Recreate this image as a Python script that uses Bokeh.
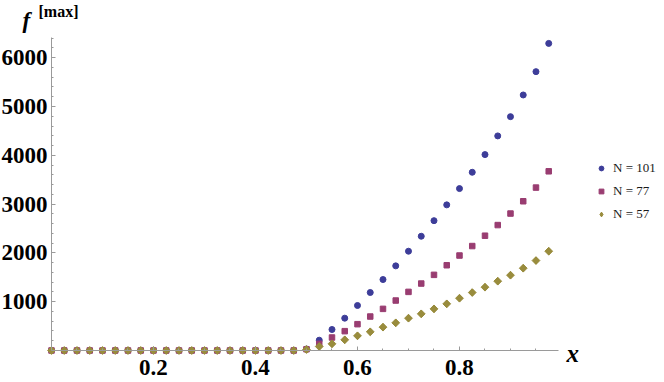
import math
from bokeh.plotting import figure
from bokeh.models import (LinearAxis, FixedTicker, Range1d, Legend, LegendItem,
                          Label, ColumnDataSource)
from bokeh.embed import file_html
from bokeh.resources import INLINE

# ---- data ----
x_vals = [0.0, 0.025, 0.05, 0.075, 0.1, 0.125, 0.15, 0.175, 0.2, 0.225,
          0.25, 0.275, 0.3, 0.325, 0.35, 0.375, 0.4, 0.425, 0.45, 0.475,
          0.5, 0.525, 0.55, 0.575, 0.6, 0.625, 0.65, 0.675, 0.7, 0.725,
          0.75, 0.775, 0.8, 0.825, 0.85, 0.875, 0.9, 0.925, 0.95, 0.975]

n101 = [0, 0, 0, 0, 0, 0, 0, 0, 0, 0, 0, 0, 0, 0, 0, 0, 0, 0, 0, 0,
        30, 211, 430, 662, 922, 1188, 1454, 1734, 2034, 2341,
        2660, 2984, 3318, 3652, 4014, 4397, 4792, 5236, 5714, 6293]
n77 = [0, 0, 0, 0, 0, 0, 0, 0, 0, 0, 0, 0, 0, 0, 0, 0, 0, 0, 0, 0,
       25, 137, 266, 396, 539, 696, 853, 1024, 1201, 1372,
       1550, 1747, 1946, 2140, 2352, 2570, 2806, 3058, 3338, 3672]
n57 = [0, 0, 0, 0, 0, 0, 0, 0, 0, 0, 0, 0, 0, 0, 0, 0, 0, 0, 0, 0,
       20, 82, 137, 219, 301, 383, 478, 567, 662, 751,
       853, 956, 1071, 1188, 1297, 1420, 1543, 1686, 1843, 2034]

series_labels = ["N = 101", "N = 77", "N = 57"]
x_ticks = [0.2, 0.4, 0.6, 0.8]
x_minor = [0.05, 0.1, 0.15, 0.25, 0.3, 0.35, 0.45, 0.5, 0.55, 0.65, 0.7, 0.75, 0.85, 0.9, 0.95]
y_ticks = [1000, 2000, 3000, 4000, 5000, 6000]
y_minor = [200, 400, 600, 800, 1200, 1400, 1600, 1800, 2200, 2400, 2600, 2800,
           3200, 3400, 3600, 3800, 4200, 4400, 4600, 4800, 5200, 5400, 5600, 5800, 6200, 6400]

# ---- styles ----
BLUE = "#3d3d99"
MAGENTA = "#993d71"
OLIVE = "#998c3d"
AXIS_COLOR = "#9a9a9a"
SERIF = "Liberation Serif"

p = figure(width=664, height=382, output_backend="svg", toolbar_location=None,
           x_range=Range1d(-0.1, 1.202), y_range=Range1d(-656, 7172),
           x_axis_type=None, y_axis_type=None,
           min_border_left=0, min_border_right=0, min_border_top=0, min_border_bottom=0)
p.outline_line_color = None
p.background_fill_color = "white"
p.border_fill_color = "white"

def style_axis(ax):
    ax.axis_line_color = AXIS_COLOR
    ax.major_tick_line_color = AXIS_COLOR
    ax.minor_tick_line_color = AXIS_COLOR
    ax.major_tick_in = 4
    ax.major_tick_out = 0
    ax.minor_tick_in = 2
    ax.minor_tick_out = 0
    ax.major_label_text_font = SERIF
    ax.major_label_text_font_style = "bold"
    ax.major_label_text_color = "black"
    ax.major_label_text_font_size = "23px"

xaxis = LinearAxis(fixed_location=0, bounds=(0, 0.994),
                   ticker=FixedTicker(ticks=x_ticks, minor_ticks=x_minor))
style_axis(xaxis)
xaxis.major_label_standoff = 10
p.add_layout(xaxis, "below")

yaxis = LinearAxis(fixed_location=0, bounds=(0, 6414),
                   ticker=FixedTicker(ticks=y_ticks, minor_ticks=y_minor))
style_axis(yaxis)
yaxis.major_label_standoff = 4
p.add_layout(yaxis, "left")

src = ColumnDataSource(dict(x=x_vals, a=n101, b=n77, c=n57))
r1 = p.scatter("x", "a", source=src, marker="circle", size=6,
               fill_color=BLUE, line_color=BLUE)
r2 = p.scatter("x", "b", source=src, marker="square", size=5.5,
               fill_color=MAGENTA, line_color=MAGENTA)
# diamond key for the legend (same data, hidden under the rotated squares)
r3_key = p.scatter("x", "c", source=src, marker="diamond", size=7,
                   fill_color=OLIVE, line_color=OLIVE)
r3 = p.scatter("x", "c", source=src, marker="square", size=5.5, angle=math.pi / 4,
               fill_color=OLIVE, line_color=OLIVE)

legend = Legend(items=[LegendItem(label=series_labels[0], renderers=[r1]),
                       LegendItem(label=series_labels[1], renderers=[r2]),
                       LegendItem(label=series_labels[2], renderers=[r3_key])],
                location=(595, 158), orientation="vertical",
                glyph_width=12, glyph_height=12, label_standoff=6,
                label_height=20, spacing=3, padding=0, margin=0,
                label_text_font=SERIF, label_text_font_size="13px",
                label_text_color="#1a1a1a",
                background_fill_alpha=0, border_line_alpha=0)
p.add_layout(legend, "center")

p.add_layout(Label(x=1.0098, y=-61, text="x", text_font=SERIF,
                   text_font_style="bold italic", text_font_size="25px",
                   text_baseline="middle", text_align="left", text_color="black"))
p.add_layout(Label(x=-0.0569, y=6760, text="f", text_font=SERIF,
                   text_font_style="bold italic", text_font_size="23px",
                   text_baseline="alphabetic", text_align="left", text_color="black"))
p.add_layout(Label(x=-0.0255, y=6945, text="[max]", text_font=SERIF,
                   text_font_style="bold", text_font_size="16px",
                   text_baseline="alphabetic", text_align="left", text_color="black"))

open("out.html", "w").write(file_html(p, INLINE))
